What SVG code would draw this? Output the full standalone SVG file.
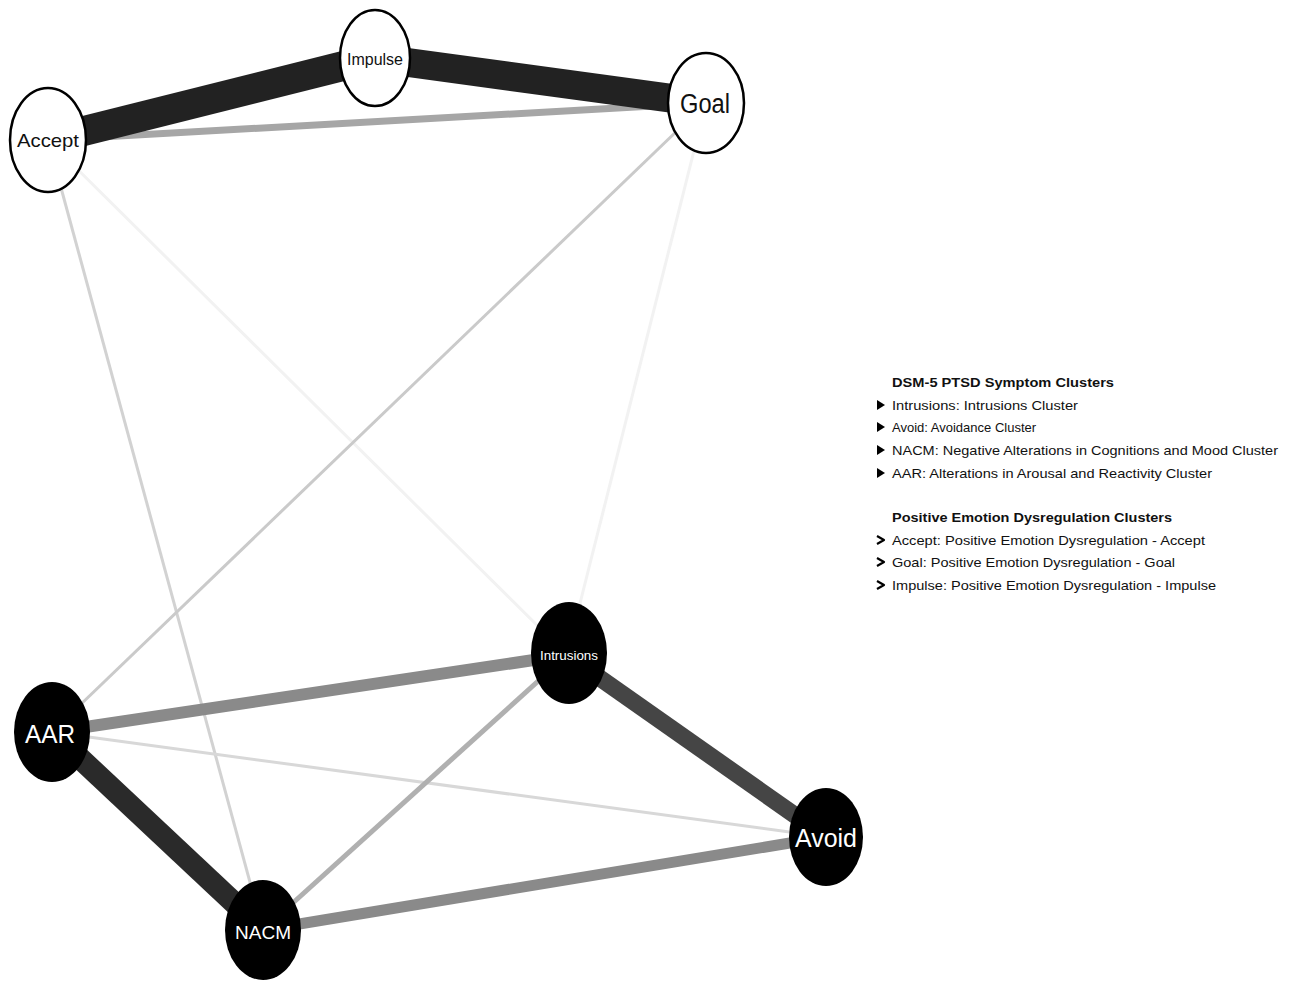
<svg xmlns="http://www.w3.org/2000/svg" width="1295" height="984" viewBox="0 0 1295 984">
  <style>
    .edge { fill: none; stroke-linecap: butt; }
    .pos ellipse { fill: #ffffff; stroke: #000000; stroke-width: 2.5; }
    .pos text { fill: #111111; font-family: "Liberation Sans", Arial, sans-serif; text-anchor: middle; dominant-baseline: central; }
    .ptsd ellipse { fill: #000000; }
    .ptsd text { fill: #ffffff; font-family: "Liberation Sans", Arial, sans-serif; text-anchor: middle; dominant-baseline: central; }
    .legend text { font-family: "Liberation Sans", Arial, sans-serif; font-size: 13px; fill: #111111; }
    .legend .head { font-weight: bold; }
    .legend .tri { fill: #000000; }
    .legend .open { fill: none; stroke: #000000; stroke-width: 2.2; stroke-linejoin: round; }
  </style>
  <rect width="1295" height="984" fill="#ffffff"/>

  <!-- connectors: partial correlations, darker and wider = stronger -->
  <g id="edges">
    <line class="edge" x1="48" y1="140" x2="567" y2="655" stroke="#f2f2f2" stroke-width="3"/>
    <line class="edge" x1="706" y1="103" x2="567" y2="655" stroke="#f2f2f2" stroke-width="3"/>
    <line class="edge" x1="48" y1="140" x2="263" y2="930" stroke="#d2d2d2" stroke-width="3"/>
    <line class="edge" x1="706" y1="103" x2="52" y2="732" stroke="#cacaca" stroke-width="3"/>
    <line class="edge" x1="52" y1="732" x2="826" y2="837" stroke="#d8d8d8" stroke-width="3"/>
    <line class="edge" x1="567" y1="655" x2="263" y2="930" stroke="#b0b0b0" stroke-width="5"/>
    <line class="edge" x1="48" y1="140" x2="706" y2="103" stroke="#a6a6a6" stroke-width="7"/>
    <line class="edge" x1="52" y1="732" x2="567" y2="655" stroke="#8a8a8a" stroke-width="12"/>
    <line class="edge" x1="263" y1="930" x2="826" y2="837" stroke="#8a8a8a" stroke-width="11"/>
    <line class="edge" x1="567" y1="655" x2="826" y2="837" stroke="#454545" stroke-width="17"/>
    <line class="edge" x1="52" y1="732" x2="263" y2="930" stroke="#2a2a2a" stroke-width="22"/>
    <line class="edge" x1="48" y1="140" x2="375" y2="58" stroke="#222222" stroke-width="30"/>
    <line class="edge" x1="375" y1="58" x2="706" y2="103" stroke="#222222" stroke-width="29"/>
  </g>

  <!-- positive emotion dysregulation nodes -->
  <g id="node-accept" class="pos">
    <ellipse cx="48" cy="140" rx="38" ry="52"/>
    <text x="48" y="140" font-size="19" textLength="62" lengthAdjust="spacingAndGlyphs">Accept</text>
  </g>
  <g id="node-impulse" class="pos">
    <ellipse cx="375" cy="58" rx="35" ry="48"/>
    <text x="375" y="59" font-size="16" textLength="56" lengthAdjust="spacingAndGlyphs">Impulse</text>
  </g>
  <g id="node-goal" class="pos">
    <ellipse cx="706" cy="103" rx="38" ry="50"/>
    <text x="705" y="104" font-size="27" textLength="50" lengthAdjust="spacingAndGlyphs">Goal</text>
  </g>

  <!-- PTSD symptom cluster nodes -->
  <g id="node-intrusions" class="ptsd">
    <ellipse cx="569" cy="653" rx="38" ry="51"/>
    <text x="569" y="655" font-size="13" textLength="58" lengthAdjust="spacingAndGlyphs">Intrusions</text>
  </g>
  <g id="node-aar" class="ptsd">
    <ellipse cx="52" cy="732" rx="38" ry="50"/>
    <text x="50" y="734" font-size="25" textLength="50" lengthAdjust="spacingAndGlyphs">AAR</text>
  </g>
  <g id="node-avoid" class="ptsd">
    <ellipse cx="826" cy="837" rx="37" ry="49"/>
    <text x="826" y="838" font-size="25" textLength="62" lengthAdjust="spacingAndGlyphs">Avoid</text>
  </g>
  <g id="node-nacm" class="ptsd">
    <ellipse cx="263" cy="930" rx="38" ry="50"/>
    <text x="263" y="932" font-size="19" textLength="56" lengthAdjust="spacingAndGlyphs">NACM</text>
  </g>

  <!-- legend -->
  <g id="legend" class="legend">
    <text class="head" x="892" y="387" textLength="222" lengthAdjust="spacingAndGlyphs">DSM-5 PTSD Symptom Clusters</text>
    <polygon class="tri" points="877,400 877,410 885,405"/>
    <text x="892" y="410" textLength="186" lengthAdjust="spacingAndGlyphs">Intrusions: Intrusions Cluster</text>
    <polygon class="tri" points="877,422 877,432 885,427"/>
    <text x="892" y="432">Avoid: Avoidance Cluster</text>
    <polygon class="tri" points="877,445 877,455 885,450"/>
    <text x="892" y="455" textLength="386" lengthAdjust="spacingAndGlyphs">NACM: Negative Alterations in Cognitions and Mood Cluster</text>
    <polygon class="tri" points="877,468 877,478 885,473"/>
    <text x="892" y="478" textLength="320" lengthAdjust="spacingAndGlyphs">AAR: Alterations in Arousal and Reactivity Cluster</text>

    <text class="head" x="892" y="522" textLength="280" lengthAdjust="spacingAndGlyphs">Positive Emotion Dysregulation Clusters</text>
    <polyline class="open" points="877,536 884,540 877,544"/>
    <text x="892" y="545" textLength="313" lengthAdjust="spacingAndGlyphs">Accept: Positive Emotion Dysregulation - Accept</text>
    <polyline class="open" points="877,558 884,562 877,566"/>
    <text x="892" y="567" textLength="283" lengthAdjust="spacingAndGlyphs">Goal: Positive Emotion Dysregulation - Goal</text>
    <polyline class="open" points="877,581 884,585 877,589"/>
    <text x="892" y="590" textLength="324" lengthAdjust="spacingAndGlyphs">Impulse: Positive Emotion Dysregulation - Impulse</text>
  </g>
</svg>
